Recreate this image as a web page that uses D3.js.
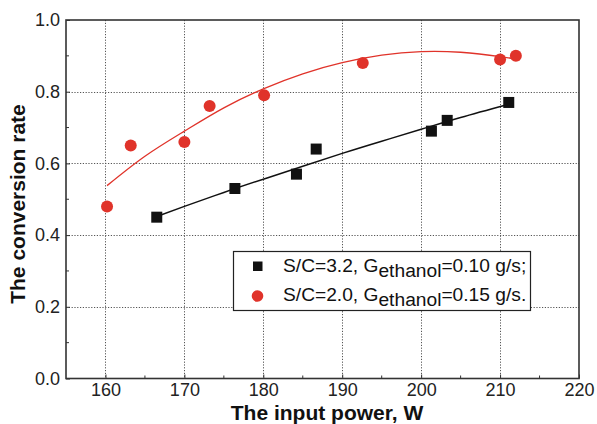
<!DOCTYPE html>
<html>
<head>
<meta charset="utf-8">
<script src="https://cdn.jsdelivr.net/npm/d3@7"></script>
<style>
  body { margin: 0; background: #fff; }
  svg text { font-family: "Liberation Sans", Arial, sans-serif; }
</style>
</head>
<body>
<svg id="chart" width="597" height="424"></svg>
<script>
// measured points
var powerA = [166.5, 176.4, 184.2, 186.7, 201.3, 203.3, 211.1]
var rateA = [0.45, 0.53, 0.57, 0.64, 0.69, 0.72, 0.77]
var powerB = [160.2, 163.2, 170.0, 173.2, 180.1, 192.6, 210.0, 212.0]
var rateB = [0.48, 0.65, 0.66, 0.76, 0.79, 0.88, 0.89, 0.90]

// fit curves
var fitPowerA = [166.5, 170, 175, 180, 185, 190, 195, 200, 205, 211.1]
var fitRateA = [0.452, 0.48, 0.519, 0.556, 0.592, 0.628, 0.662, 0.695, 0.728, 0.765]
var fitPowerB = [160.2, 165, 170, 175, 180, 185, 190, 195, 200, 205, 210, 212.5]
var fitRateB = [0.538, 0.62, 0.69, 0.755, 0.808, 0.85, 0.881, 0.902, 0.912, 0.91, 0.898, 0.889]

var xTicks = [160, 170, 180, 190, 200, 210, 220]
var yTicks = [0.0, 0.2, 0.4, 0.6, 0.8, 1.0]
var xMinor = [165, 175, 185, 195, 205, 215]
var yMinor = [0.1, 0.3, 0.5, 0.7, 0.9]

var red = '#e0332a'
var svg = d3.select('#chart')
var pLeft = 66, pRight = 579, pTop = 20, pBottom = 378.5

var x = d3.scaleLinear().domain([155, 220]).range([pLeft, pRight])
var y = d3.scaleLinear().domain([0, 1]).range([pBottom, pTop])

/** grid */
var grid = svg.append('g').attr('stroke', '#555').attr('stroke-width', 1).attr('stroke-dasharray', '1.2,1.6')
xTicks.slice(0, -1).forEach(function (t) {
  grid.append('line').attr('x1', Math.round(x(t)) + 0.5).attr('x2', Math.round(x(t)) + 0.5).attr('y1', pTop).attr('y2', pBottom)
})
yTicks.slice(1, -1).forEach(function (t) {
  grid.append('line').attr('x1', pLeft).attr('x2', pRight).attr('y1', Math.round(y(t)) + 0.5).attr('y2', Math.round(y(t)) + 0.5)
})

/** axes, ticks inside */
var xAxis = d3.axisBottom(x).tickValues(xTicks).tickSize(-4).tickPadding(5).tickFormat(d3.format('d'))
var yAxis = d3.axisLeft(y).tickValues(yTicks).tickSize(-4).tickPadding(6).tickFormat(d3.format('.1f'))
var gx = svg.append('g').attr('transform', 'translate(0,' + pBottom + ')').call(xAxis)
var gy = svg.append('g').attr('transform', 'translate(' + pLeft + ',0)').call(yAxis)
gx.append('g').selectAll('line').data(xMinor).enter().append('line')
  .attr('x1', function (d) { return x(d) }).attr('x2', function (d) { return x(d) }).attr('y1', 0).attr('y2', -3).attr('stroke', '#333')
gy.append('g').selectAll('line').data(yMinor).enter().append('line')
  .attr('y1', function (d) { return y(d) }).attr('y2', function (d) { return y(d) }).attr('x1', 0).attr('x2', 3).attr('stroke', '#333')
;[gx, gy].forEach(function (g) {
  g.select('.domain').remove()
  g.selectAll('.tick line').attr('stroke', '#333')
  g.selectAll('text').attr('font-size', 18).attr('fill', '#222').style('font-family', '"Liberation Sans", Arial, sans-serif')
})
svg.append('rect').attr('x', pLeft).attr('y', pTop).attr('width', pRight - pLeft).attr('height', pBottom - pTop)
  .attr('fill', 'none').attr('stroke', '#333').attr('stroke-width', 1.6)

/** fit lines */
var line = d3.line().curve(d3.curveNatural).x(function (d) { return x(d[0]) }).y(function (d) { return y(d[1]) })
svg.append('path').attr('d', line(d3.zip(fitPowerA, fitRateA))).attr('fill', 'none').attr('stroke', '#111').attr('stroke-width', 1.5)
svg.append('path').attr('d', line(d3.zip(fitPowerB, fitRateB))).attr('fill', 'none').attr('stroke', red).attr('stroke-width', 1.3)

/** points */
svg.append('g').selectAll('rect').data(d3.zip(powerA, rateA)).enter().append('rect')
  .attr('x', function (d) { return x(d[0]) - 5.5 }).attr('y', function (d) { return y(d[1]) - 5.5 })
  .attr('width', 11).attr('height', 11).attr('fill', '#111')
svg.append('g').selectAll('circle').data(d3.zip(powerB, rateB)).enter().append('circle')
  .attr('cx', function (d) { return x(d[0]) }).attr('cy', function (d) { return y(d[1]) })
  .attr('r', 6).attr('fill', red)

/** legend */
var lg = svg.append('g')
lg.append('rect').attr('x', 233.5).attr('y', 251.5).attr('width', 297).attr('height', 59)
  .attr('fill', '#fff').attr('stroke', '#222').attr('stroke-width', 1.2)
lg.append('rect').attr('x', 253).attr('y', 261.5).attr('width', 9.5).attr('height', 9.5).attr('fill', '#111')
lg.append('circle').attr('cx', 257.5).attr('cy', 296).attr('r', 5.8).attr('fill', red)
var labels = [['S/C=3.2, G', 'ethanol', '=0.10 g/s;'], ['S/C=2.0, G', 'ethanol', '=0.15 g/s.']]
labels.forEach(function (l, i) {
  var t = lg.append('text').attr('x', 283).attr('y', 272 + i * 29).attr('font-size', 19.2).attr('fill', '#111')
  t.append('tspan').text(l[0])
  t.append('tspan').attr('dy', 5).text(l[1])
  t.append('tspan').attr('dy', -5).text(l[2])
})

/** titles */
svg.append('text').attr('x', 327).attr('y', 420).attr('text-anchor', 'middle')
  .attr('font-size', 21).attr('font-weight', 'bold').attr('fill', '#111').text('The input power, W')
svg.append('text').attr('transform', 'translate(25,204) rotate(-90)').attr('text-anchor', 'middle')
  .attr('font-size', 21).attr('font-weight', 'bold').attr('fill', '#111').text('The conversion rate')
</script>
</body>
</html>
